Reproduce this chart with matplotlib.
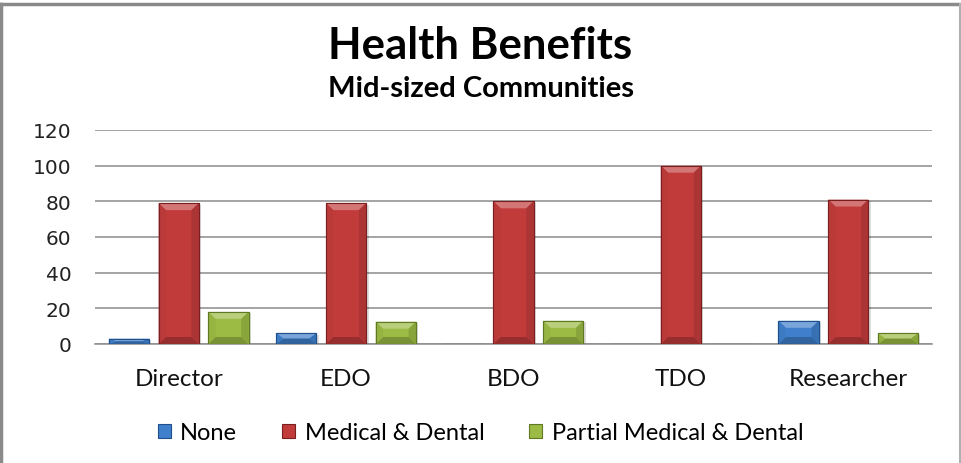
import matplotlib
matplotlib.use("Agg")
import matplotlib.pyplot as plt
from matplotlib.patches import Polygon, Rectangle
from matplotlib.lines import Line2D
import numpy as np

categories = ["Director", "EDO", "BDO", "TDO", "Researcher"]
series_names = ["None", "Medical & Dental", "Partial Medical & Dental"]
none_vals = [3, 6, 0, 0, 13]
medical_vals = [79, 79, 80, 100, 81]
partial_vals = [18, 12.5, 13, 0, 6]
y_ticks = [0, 20, 40, 60, 80, 100, 120]

colors = ["#3f7fcb", "#c23b3b", "#9bbb44"]
edges = ["#1f4f8a", "#7a1f1f", "#5f7a22"]


def shade(c, f):
    rgb = np.array(matplotlib.colors.to_rgb(c))
    if f >= 0:
        rgb = rgb + (1 - rgb) * f
    else:
        rgb = rgb * (1 + f)
    return tuple(np.clip(rgb, 0, 1))


fig = plt.figure(figsize=(9.61, 4.64), dpi=100)
ax = fig.add_axes([95 / 961, 1 - 345 / 464, (932 - 95) / 961, (345 - 131) / 464])

x = np.arange(len(categories))
width = 0.24
step = 0.297
all_vals = [none_vals, medical_vals, partial_vals]

ax.set_xlim(-0.5, len(categories) - 0.5)
ax.set_ylim(0, 120)

# bevel sizes, converted from pixels to data units
px_y = 120 / (345 - 131)
bev_y = 7 * px_y
bev_x = width * 0.18

for i, vals in enumerate(all_vals):
    offs = x + (i - 1) * step
    bars = ax.bar(offs, vals, width=width, color=colors[i], edgecolor=edges[i],
                  linewidth=0.8, zorder=3, label=series_names[i])
    for b in bars:
        h = b.get_height()
        if h <= 0:
            continue
        x0 = b.get_x()
        w = b.get_width()
        by = min(bev_y, h / 2.0)
        bx = bev_x
        # drop shadow
        ax.add_patch(Rectangle((x0 + 0.014, 0), w, h - 0.8, facecolor="#000000",
                               alpha=0.13, linewidth=0, zorder=2.5))
        # top facet
        ax.add_patch(Polygon([(x0, h), (x0 + w, h), (x0 + w - bx, h - by), (x0 + bx, h - by)],
                             closed=True, facecolor=shade(colors[i], 0.3),
                             linewidth=0, zorder=3.5))
        # bottom facet
        ax.add_patch(Polygon([(x0, 0), (x0 + w, 0), (x0 + w - bx, by), (x0 + bx, by)],
                             closed=True, facecolor=shade(colors[i], -0.22),
                             linewidth=0, zorder=3.5))
        # side facets
        ax.add_patch(Polygon([(x0, 0), (x0 + bx, by), (x0 + bx, h - by), (x0, h)],
                             closed=True, facecolor=shade(colors[i], -0.04),
                             linewidth=0, zorder=3.5))
        ax.add_patch(Polygon([(x0 + w, 0), (x0 + w - bx, by), (x0 + w - bx, h - by), (x0 + w, h)],
                             closed=True, facecolor=shade(colors[i], -0.12),
                             linewidth=0, zorder=3.5))
        ax.add_patch(Rectangle((x0, 0), w, h, facecolor="none", edgecolor=edges[i],
                               linewidth=0.8, zorder=3.6))

ax.set_yticks(y_ticks)
ax.set_yticklabels([str(v) for v in y_ticks], fontsize=14.5, family="DejaVu Sans", color="#222222")
ax.set_xticks(x)
ax.set_xticklabels(categories, fontsize=17.5, family="Lato", color="#111111")
ax.tick_params(axis="y", length=0, pad=17)
ax.tick_params(axis="x", length=0, pad=17)
ax.grid(axis="y", color="#8c8c8c", linewidth=1.1, zorder=0)
for s in ["left", "right", "top"]:
    ax.spines[s].set_visible(False)
ax.spines["bottom"].set_color("#8c8c8c")
ax.spines["bottom"].set_linewidth(1.1)

fig.text(0.5, 1 - 46 / 464, "Health Benefits", ha="center", va="center",
         fontsize=31.5, fontweight="bold", family="Lato", color="#000000")
fig.text(0.5, 1 - 89 / 464, "Mid-sized Communities", ha="center", va="center",
         fontsize=21, fontweight="bold", family="Lato", color="#000000")

handles = [Rectangle((0, 0), 1, 1, facecolor=colors[i], edgecolor=edges[i], linewidth=0.8)
           for i in range(3)]
fig.legend(handles, series_names, loc="center", bbox_to_anchor=(0.5, 1 - 434 / 464),
           ncol=3, frameon=False, prop={"family": "Lato", "size": 17},
           handlelength=0.55, handleheight=0.55, handletextpad=0.4, columnspacing=1.9)

# outer frame: left, top and right edges
frame_kw = dict(transform=fig.transFigure, color="#8a8a8a", linewidth=2.5)
fig.add_artist(Line2D([1.2 / 961, 1.2 / 961], [0, 1 - 5 / 464], **frame_kw))
fig.add_artist(Line2D([0, 960 / 961], [1 - 5 / 464, 1 - 5 / 464], **frame_kw))
fig.add_artist(Line2D([959.5 / 961, 959.5 / 961], [0, 1 - 5 / 464],
                      transform=fig.transFigure, color="#b0b0b0", linewidth=1.5))

fig.savefig("out.png", dpi=100, facecolor="white")
